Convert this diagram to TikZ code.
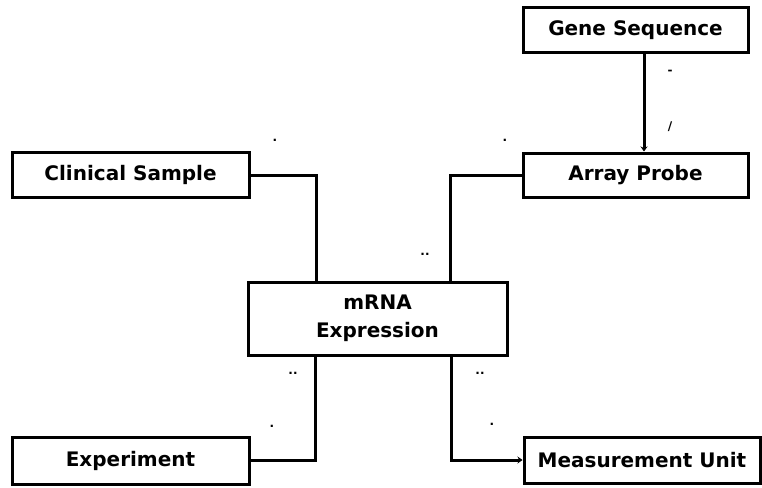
\documentclass[tikz,border=0pt]{standalone}
\usepackage{fontspec}
\setmainfont{DejaVu Sans}
\usetikzlibrary{arrows.meta}
\tikzset{
  entity/.style={draw=black, line width=3pt, fill=white, align=center, inner sep=0pt,
    font=\bfseries\fontsize{20}{28}\selectfont},
  conn/.style={draw=black, line width=3pt},
  mult/.style={font=\bfseries\fontsize{12}{12}\selectfont, inner sep=0pt}
}
\begin{document}
\begin{tikzpicture}[x=1pt,y=-1pt]
\useasboundingbox (0,0) rectangle (762,487);
\node[entity, minimum width=225pt, minimum height=45pt] (gene) at (635.5,30.5) {Gene Sequence};
\node[entity, minimum width=225pt, minimum height=44pt] (probe) at (635.5,175) {Array Probe};
\node[entity, minimum width=237pt, minimum height=45pt] (clin) at (130.5,175) {Clinical Sample};
\node[entity, minimum width=259pt, minimum height=73pt] (mrna) at (377.5,318.5) {mRNA\\Expression};
\node[entity, minimum width=237pt, minimum height=47pt] (exp) at (130.5,460.5) {Experiment};
\node[entity, minimum width=236pt, minimum height=46pt] (meas) at (642,460) {Measurement Unit};

\coordinate (g1) at ([xshift=8.5pt]gene.south);
\draw[conn, -{Stealth[length=5pt,width=7pt]}] (g1) -- (g1 |- probe.north);
\draw[conn] (clin.east) -| ([xshift=-61.5pt]mrna.north);
\draw[conn] (probe.west) -| ([xshift=72.5pt]mrna.north);
\draw[conn] (exp.east) -| ([xshift=-62.5pt]mrna.south);
\draw[conn, -{Stealth[length=5pt,width=7pt]}] ([xshift=73.5pt]mrna.south) |- (meas.west);

\node[mult] (m1) at (275,140) {.};
\node[mult] (m2) at (505,140) {.};
\node[mult] (m3) at (425,254) {..};
\node[mult] (m4) at (293,373) {..};
\node[mult] (m5) at (272,426) {.};
\node[mult] (m6) at (480,373) {..};
\node[mult] (m7) at (492,424) {.};
\node[mult] (m8) at (670,72) {-};
\node[mult] (m9) at (670,127) {/};
\end{tikzpicture}
\end{document}
